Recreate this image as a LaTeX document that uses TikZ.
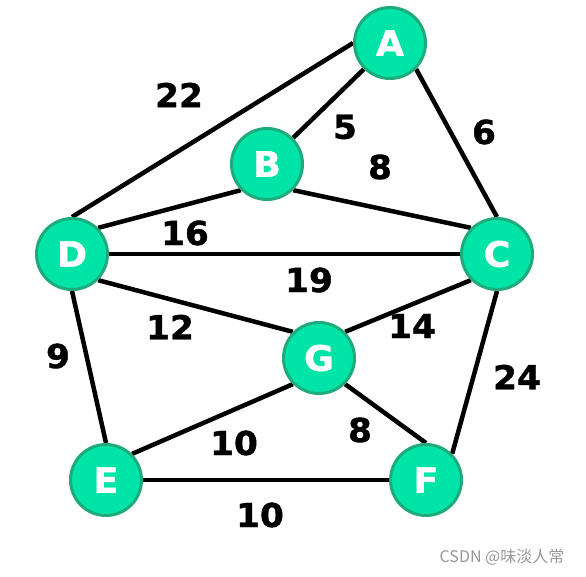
\documentclass[tikz,border=0pt]{standalone}
\usepackage{fontspec}
\setmainfont{DejaVu Sans}
\newfontfamily\heavyfont{DejaVu Sans Bold}[FakeBold=1.2,FakeStretch=1.04]
\newfontfamily\cjkfont{Noto Sans CJK SC}
\usetikzlibrary{backgrounds}
\definecolor{nodefill}{RGB}{0,228,168}
\definecolor{nodeline}{RGB}{30,170,122}
\definecolor{wmgray}{RGB}{150,150,150}
\begin{document}
\begin{tikzpicture}[x=1pt,y=-1pt,
  vert/.style={circle,fill=nodefill,draw=nodeline,line width=3pt,minimum size=71pt,inner sep=0pt,
    text=white,font=\heavyfont\fontsize{35}{35}\selectfont},
  edge/.style={line width=4.5pt,draw=black},
  wlabel/.style={inner sep=0pt,font=\heavyfont\fontsize{33}{33}\selectfont}]
\useasboundingbox (0,0) rectangle (586,576);
\node[vert] (A) at (390,43) {A};
\node[vert] (B) at (267,164) {B};
\node[vert] (C) at (497,254) {C};
\node[vert] (D) at (72,254) {D};
\node[vert] (G) at (319,358) {G};
\node[vert] (E) at (106,480) {E};
\node[vert] (F) at (426,480) {F};
\begin{scope}[on background layer]
\draw[edge] (D.north) -- (A.west);
\draw[edge] (A.south west) -- (B.north east);
\draw[edge] (A.south east) -- (C.north);
\draw[edge] (D.north east) -- (B.south west);
\draw[edge] (B.south east) -- (C.north west);
\draw[edge] (D.east) -- (C.west);
\draw[edge] (D.south east) -- (G.north west);
\draw[edge] (C.south west) -- (G.north east);
\draw[edge] (C.south) -- (F.north east);
\draw[edge] (D.south) -- (E.north);
\draw[edge] (G.south west) -- (E.north east);
\draw[edge] (G.south east) -- (F.north);
\draw[edge] (E.east) -- (F.west);
\end{scope}
\node[wlabel] (l1) at (179,95) {22};
\node[wlabel] (l2) at (345,127) {5};
\node[wlabel] (l3) at (484,132) {6};
\node[wlabel] (l4) at (380,167) {8};
\node[wlabel] (l5) at (185,233) {16};
\node[wlabel] (l6) at (309,280) {19};
\node[wlabel] (l7) at (170,327) {12};
\node[wlabel] (l8) at (412,326) {14};
\node[wlabel] (l9) at (58,356) {9};
\node[wlabel] (l10) at (517,377) {24};
\node[wlabel] (l11) at (360,430) {8};
\node[wlabel] (l12) at (234,443) {10};
\node[wlabel] (l13) at (260,515) {10};
\node[inner sep=0pt,text=wmgray,font=\cjkfont\fontsize{16}{16}\selectfont] (wm) at (502,557) {CSDN @味淡人常};
\end{tikzpicture}
\end{document}
